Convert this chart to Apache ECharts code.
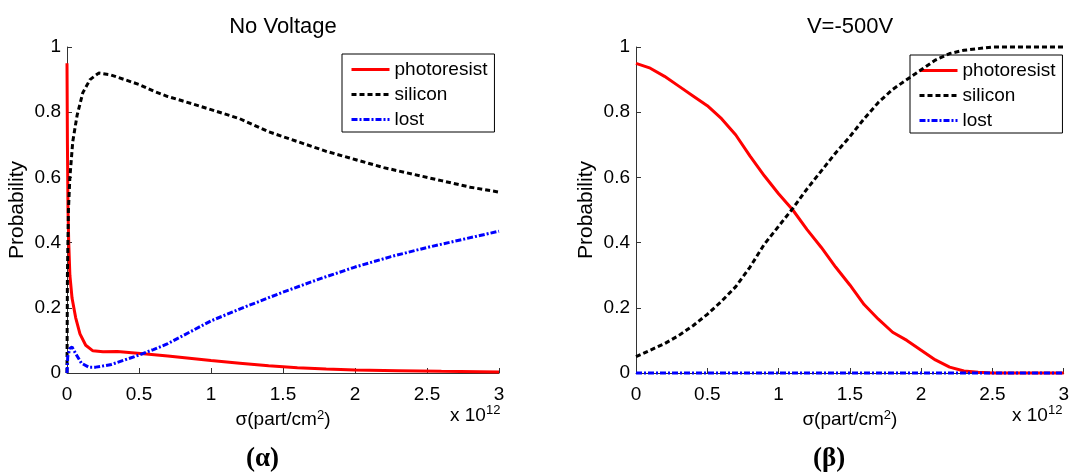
<!DOCTYPE html>
<html>
<head>
<meta charset="utf-8">
<script src="https://cdn.jsdelivr.net/npm/echarts@6/dist/echarts.min.js"></script>
<style>html,body{margin:0;padding:0;background:#fff}#c{width:1072px;height:476px}</style>
</head>
<body>
<div id="c"></div>
<script>
// x values in units of 1e12 part/cm^2
const titles = ['No Voltage', 'V=-500V'];
const captions = ['(\u03b1)', '(\u03b2)'];
const seriesNames = ['photoresist', 'silicon', 'lost'];
const xTicks = [0, 0.5, 1, 1.5, 2, 2.5, 3];
const yTicks = [0, 0.2, 0.4, 0.6, 0.8, 1];

const noVoltagePhotoresist = [[0,0.95],[0.003,0.7],[0.007,0.5],[0.012,0.4],[0.02,0.3],[0.035,0.23],[0.06,0.17],[0.09,0.12],[0.13,0.085],[0.18,0.068],[0.25,0.065],[0.35,0.066],[0.45,0.062],[0.55,0.058],[0.7,0.052],[0.85,0.045],[1.0,0.038],[1.2,0.03],[1.4,0.022],[1.6,0.016],[1.8,0.012],[2.0,0.009],[2.3,0.007],[2.6,0.005],[3.0,0.003]];
const noVoltageSilicon = [[0,0],[0.003,0.3],[0.01,0.5],[0.02,0.6],[0.04,0.71],[0.07,0.79],[0.11,0.86],[0.16,0.9],[0.22,0.92],[0.3,0.915],[0.4,0.9],[0.5,0.885],[0.6,0.865],[0.7,0.848],[0.8,0.835],[1.0,0.808],[1.2,0.78],[1.4,0.74],[1.6,0.71],[1.8,0.68],[2.0,0.655],[2.2,0.63],[2.4,0.61],[2.6,0.59],[2.8,0.57],[3.0,0.555]];
const noVoltageLost = [[0,0.0],[0.005,0.05],[0.02,0.075],[0.035,0.08],[0.06,0.06],[0.1,0.03],[0.15,0.018],[0.2,0.018],[0.3,0.025],[0.4,0.04],[0.5,0.055],[0.6,0.072],[0.7,0.09],[0.85,0.125],[1.0,0.16],[1.25,0.205],[1.5,0.248],[1.75,0.288],[2.0,0.325],[2.25,0.357],[2.5,0.385],[2.75,0.41],[3.0,0.435]];

const voltagePhotoresist = [[0,0.95],[0.1,0.935],[0.2,0.91],[0.3,0.88],[0.4,0.85],[0.5,0.82],[0.6,0.78],[0.7,0.73],[0.8,0.665],[0.9,0.605],[1.0,0.55],[1.1,0.5],[1.2,0.44],[1.3,0.385],[1.4,0.325],[1.5,0.27],[1.6,0.21],[1.7,0.165],[1.8,0.125],[1.9,0.1],[2.0,0.07],[2.1,0.04],[2.2,0.018],[2.3,0.006],[2.4,0.002],[2.5,0],[3.0,0]];
const voltageSilicon = [[0,0.05],[0.1,0.07],[0.2,0.09],[0.3,0.115],[0.4,0.145],[0.5,0.18],[0.6,0.22],[0.7,0.265],[0.8,0.325],[0.9,0.395],[1.0,0.45],[1.1,0.505],[1.2,0.565],[1.3,0.62],[1.4,0.675],[1.5,0.725],[1.6,0.78],[1.7,0.83],[1.8,0.87],[1.9,0.9],[2.0,0.93],[2.1,0.96],[2.2,0.98],[2.3,0.99],[2.4,0.995],[2.5,1.0],[3.0,1.0]];
const voltageLost = [[0,0],[0.5,0],[1.0,0],[1.5,0],[2.0,0],[2.5,0],[3.0,0]];

const panelData = [
  [noVoltagePhotoresist, noVoltageSilicon, noVoltageLost],
  [voltagePhotoresist, voltageSilicon, voltageLost]
];

const FONT = '"Liberation Sans", Arial, Helvetica, sans-serif';
const lineStyles = [
  {color: '#ff0000', width: 3, type: 'solid'},
  {color: '#000000', width: 3, type: [5, 3]},
  {color: '#0000ff', width: 3, type: [6, 2, 2, 2]}
];
const grids = [
  {left: 67, right: 573, top: 47, bottom: 103},
  {left: 636, right: 7, top: 47, bottom: 103}
];
const legendPos = [{left: 342, top: 54}, {left: 910, top: 55}];
const plotCenters = [283, 850];
const titleCenters = [278, 845];
const expoLeft = [450, 1012];

const axisLineStyle = {color: '#333', width: 1};
const opt = {
  animation: false,
  backgroundColor: '#fff',
  title: titles.map((t, i) => ({
    text: t, left: titleCenters[i], top: 11, textAlign: 'center',
    textStyle: {fontFamily: FONT, fontSize: 22, fontWeight: 'normal', color: '#000'}
  })),
  grid: grids,
  legend: legendPos.map(p => ({
    data: seriesNames, orient: 'vertical', left: p.left, top: p.top,
    itemWidth: 38, itemHeight: 14, itemGap: 6, padding: [6, 7, 3, 8],
    borderColor: '#000', borderWidth: 1, backgroundColor: '#fff', borderRadius: 0,
    selectedMode: false,
    itemStyle: {opacity: 0},
    lineStyle: {width: 3},
    textStyle: {fontFamily: FONT, fontSize: 19, color: '#000', lineHeight: 19}
  })),
  xAxis: grids.map((g, i) => ({
    gridIndex: i, type: 'value', min: xTicks[0], max: xTicks[xTicks.length - 1], interval: 0.5,
    axisLine: {show: true, onZero: false, lineStyle: axisLineStyle},
    axisTick: {show: true, inside: true, length: 5, lineStyle: axisLineStyle},
    axisLabel: {fontFamily: FONT, fontSize: 19, color: '#000', margin: 12},
    splitLine: {show: false},
    name: '{a|\u03c3(part/cm}{s|2}{a|)}', nameLocation: 'middle', nameGap: 30,
    nameTextStyle: {rich: {
      a: {fontFamily: FONT, fontSize: 19, color: '#000'},
      s: {fontFamily: FONT, fontSize: 13, color: '#000', verticalAlign: 'top', padding: [0, 0, 8, 0]}
    }}
  })),
  yAxis: grids.map((g, i) => ({
    gridIndex: i, type: 'value', min: yTicks[0], max: yTicks[yTicks.length - 1], interval: 0.2,
    axisLine: {show: true, lineStyle: axisLineStyle},
    axisTick: {show: true, inside: true, length: 5, lineStyle: axisLineStyle},
    axisLabel: {fontFamily: FONT, fontSize: 19, color: '#000', margin: 6},
    splitLine: {show: false},
    name: 'Probability', nameLocation: 'middle', nameGap: 39, nameRotate: 90,
    nameTextStyle: {fontFamily: FONT, fontSize: 21, color: '#000'}
  })),
  series: [],
  graphic: []
};
panelData.forEach((arrs, p) => {
  arrs.forEach((d, k) => {
    opt.series.push({
      name: seriesNames[k], type: 'line', xAxisIndex: p, yAxisIndex: p,
      data: d, showSymbol: false, symbol: 'none', clip: false,
      lineStyle: lineStyles[k], itemStyle: {color: lineStyles[k].color}, z: 3 + k
    });
  });
  opt.graphic.push({
    type: 'text', left: expoLeft[p], top: 404,
    style: {
      text: '{a|x 10}{s|12}', fontFamily: FONT,
      rich: {a: {fontSize: 19, fontFamily: FONT, fill: '#000'},
             s: {fontSize: 13, fontFamily: FONT, fill: '#000', verticalAlign: 'top', padding: [0, 0, 10, 0]}}
    }
  });
  opt.graphic.push({
    type: 'text', left: plotCenters[p] - 37, top: 446,
    style: {text: captions[p], font: 'bold 27px "Liberation Serif", "Times New Roman", serif', fill: '#000'}
  });
});
const chart = echarts.init(document.getElementById('c'), null, {renderer: 'canvas'});
chart.setOption(opt);
</script>
</body>
</html>
